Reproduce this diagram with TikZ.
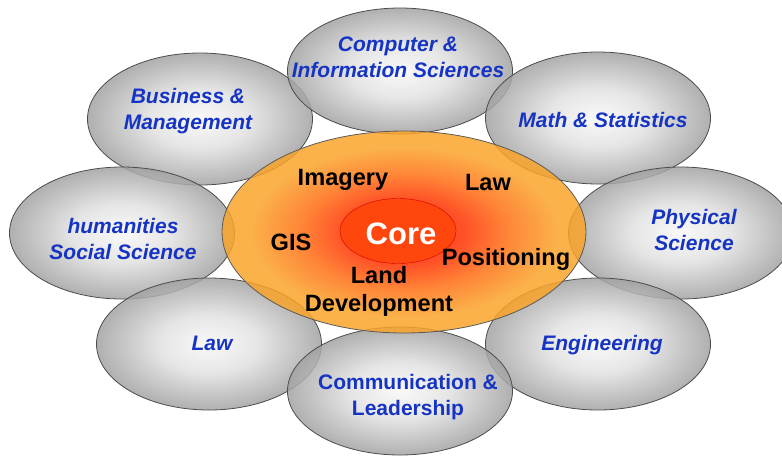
\documentclass[tikz,border=0pt]{standalone}
\usepackage{fontspec}
\setmainfont{Liberation Sans}
\usetikzlibrary{shapes.geometric}

\definecolor{fieldblue}{RGB}{22,52,196}
\definecolor{ballin}{RGB}{248,248,248}
\definecolor{ballmid}{RGB}{225,225,225}
\definecolor{ballout}{RGB}{162,162,162}
\definecolor{corered}{RGB}{255,48,0}
\definecolor{coremid}{RGB}{255,110,20}
\definecolor{coreorange}{RGB}{250,164,42}
\definecolor{heartred}{RGB}{255,70,10}

\pgfdeclareradialshading{fieldball}{\pgfpoint{0bp}{0bp}}{color(0bp)=(ballin); color(11bp)=(ballmid); color(25bp)=(ballout); color(50bp)=(ballout)}
\pgfdeclareradialshading{coreball}{\pgfpoint{0bp}{0bp}}{color(0bp)=(corered); color(8bp)=(corered); color(14bp)=(coremid); color(21bp)=(coreorange); color(50bp)=(coreorange)}

\tikzset{
  field/.style={ellipse, draw=black!70, thin, shading=fieldball, fill opacity=0.85,
    minimum width=112.5pt, minimum height=66pt, inner sep=0pt},
  fieldtext/.style={text=fieldblue, align=center,
    font=\fontsize{10.5}{13}\selectfont\bfseries\itshape},
  coretext/.style={align=center, font=\fontsize{11.8}{14}\selectfont\bfseries},
}

\begin{document}
\begin{tikzpicture}[x=0.5pt,y=-0.5pt]
    \useasboundingbox (0,0) rectangle (782,457);
    \clip (0,0) rectangle (782,457);

    % Outer fields
    \node[field] (bm) at (200,119) {};
    \node[field, minimum height=63pt] (cis) at (400,71) {};
    \node[field] (math) at (598,118) {};
    \node[field] (hum) at (122,233) {};
    \node[field] (phys) at (681,233) {};
    \node[field] (law) at (209,344) {};
    \node[field] (eng) at (598,344) {};
    \node[field, minimum height=64pt] (comm) at (400,391) {};

    % Field labels
    \node[fieldtext] (bm-t) at (188,111) {Business \&\\Management};
    \node[fieldtext] (cis-t) at (398,57) {Computer \&\\Information Sciences};
    \node[fieldtext] (math-t) at (603,120) {Math \& Statistics};
    \node[fieldtext] (hum-t) at (123,239) {humanities\\Social Science};
    \node[fieldtext] (phys-t) at (694,230) {Physical\\Science};
    \node[fieldtext] (law-t) at (212,343) {Law};
    \node[fieldtext] (eng-t) at (602,345) {Engineering};
    \node[fieldtext, font=\fontsize{10.5}{13}\selectfont\bfseries] (comm-t) at (408,397) {Communication \&\\Leadership};

    % Core
    \node[ellipse, draw=black!65, thin, shading=coreball, fill opacity=0.85,
      minimum width=182pt, minimum height=101pt, inner sep=0pt] (core) at (404,232) {};
    \node[ellipse, draw=red!80!black, very thin, fill=heartred, fill opacity=0.9,
      minimum width=58pt, minimum height=32.5pt, inner sep=0pt] (heart) at (398,231) {};

    % Core labels
    \node[coretext] (img) at (343,180) {Imagery};
    \node[coretext] (claw) at (488,182) {Law};
    \node[coretext] (gis) at (291,242) {GIS};
    \node[coretext, text=white, font=\fontsize{15.5}{18}\selectfont\bfseries] (heart-t) at (401,234) {Core};
    \node[coretext] (pos) at (506,259) {Positioning};
    \node[coretext] (land) at (379,291) {Land\\Development};
\end{tikzpicture}
\end{document}
